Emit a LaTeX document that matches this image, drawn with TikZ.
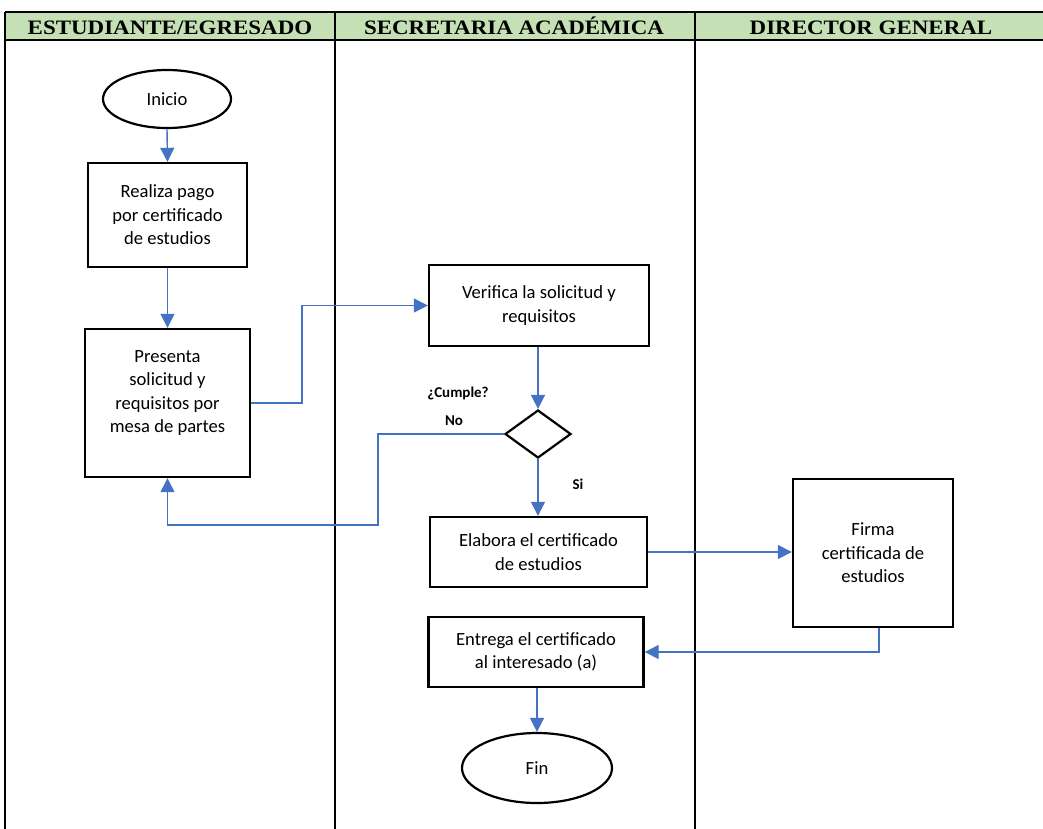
\documentclass[tikz,border=0pt]{standalone}
\usepackage{fontspec}
\setmainfont{Carlito}
\newfontfamily\headfont{Liberation Serif}
\usetikzlibrary{shapes.geometric,arrows.meta,calc}
\definecolor{headgreen}{HTML}{C5E0B4}
\definecolor{flowblue}{HTML}{4472C4}

\begin{document}
\begin{tikzpicture}[x=1pt,y=-1pt,
  lane/.style={line width=2pt,black},
  headtext/.style={font=\headfont\bfseries\fontsize{20.5}{23}\selectfont,inner sep=0pt,anchor=base},
  proc/.style={draw,line width=2.4pt,align=center,inner sep=0pt,
    font=\fontsize{18.6}{23.5}\selectfont},
  term/.style={draw,ellipse,line width=2.2pt,inner sep=0pt,
    font=\fontsize{18.6}{23.5}\selectfont},
  decision/.style={draw,diamond,line width=2.2pt,inner sep=0pt,aspect=1.375},
  txt/.style={align=center,inner sep=0pt,font=\fontsize{18.6}{23.5}\selectfont},
  tag/.style={inner sep=0pt,font=\bfseries\fontsize{15}{18}\selectfont},
  flow/.style={draw=flowblue,line width=1.4pt,-{Triangle[length=14pt,width=14pt]}}]

  \useasboundingbox (0,0) rectangle (1043,828);

  % swimlane table
  \fill[headgreen] (5,12) rectangle (1050,40);
  \draw[lane] (5,12) -- (1050,12);
  \draw[lane] (5,40) -- (1050,40);
  \draw[lane] (5,12) -- (5,830);
  \draw[lane] (335,12) -- (335,830);
  \draw[lane] (695,12) -- (695,830);

  \node[headtext] (h1) at (170,34.5) {\scalebox{1.12}[1]{ESTUDIANTE/EGRESADO}};
  \node[headtext] (h2) at (514,34.5) {\scalebox{1.12}[1]{SECRETARIA ACADÉMICA}};
  \node[headtext] (h3) at (871,34.5) {\scalebox{1.12}[1]{DIRECTOR GENERAL}};

  % flow steps
  \node[term,minimum width=128pt,minimum height=58pt] (inicio) at (167,99) {Inicio};
  \node[proc,minimum width=159pt,minimum height=104pt] (realiza) at (167.5,215)
    {Realiza pago\\por certificado\\de estudios};
  \node[proc,minimum width=165pt,minimum height=148pt] (presenta) at (167.5,403) {};
  \node[txt] (presentat) at (167.5,393)
    {Presenta\\solicitud y\\requisitos por\\mesa de partes};
  \node[proc,minimum width=220pt,minimum height=81pt] (verifica) at (539,305.5)
    {Verifica la solicitud y\\requisitos};
  \node[decision,minimum width=66pt,minimum height=48pt] (cumple) at (538,434) {};
  \node[tag] (cumplet) at (458,393) {¿Cumple?};
  \node[tag] (no) at (454,421) {No};
  \node[tag] (si) at (578,484) {Si};
  \node[proc,minimum width=217pt,minimum height=70pt] (elabora) at (538.5,552)
    {Elabora el certificado\\de estudios};
  \node[proc,minimum width=160pt,minimum height=148pt] (firma) at (873,553)
    {Firma\\certificada de\\estudios};
  \node[proc,minimum width=215pt,minimum height=70pt] (entrega) at (536,652)
    {Entrega el certificado\\al interesado (a)};
  \node[term,minimum width=150pt,minimum height=70pt] (fin) at (537,768) {Fin};

  % connectors
  \draw[flow] (inicio.south) -- (realiza.north);
  \draw[flow] (realiza.south) -- (presenta.north);
  \draw[flow] (presenta.east) -- (302,403) |- (verifica.west);
  \draw[flow] (verifica.south -| cumple.north) -- (cumple.north);
  \draw[flow] (cumple.west) -- (378,434) -- (378,525) -| (presenta.south);
  \draw[flow] (cumple.south) -- (cumple.south |- elabora.north);
  \draw[flow] (elabora.east) -- (elabora.east -| firma.west);
  \draw[flow] ([xshift=6pt]firma.south) |- (entrega.east);
  \draw[flow] (entrega.south -| fin.north) -- (fin.north);
\end{tikzpicture}
\end{document}
